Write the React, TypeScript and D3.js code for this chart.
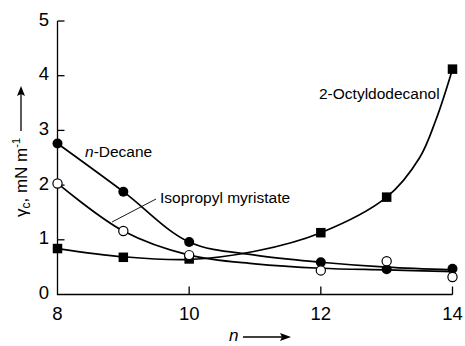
import React from "react";
import * as d3 from "d3";

const xTicks = [8, 10, 12, 14];
const yTicks = [0, 1, 2, 3, 4, 5];

// measured points
const nDecane = [8, 9, 10, 12, 13, 14];
const decaneVals = [2.76, 1.88, 0.96, 0.59, 0.46, 0.47];
const nMyristate = [8, 9, 10, 12, 13, 14];
const myristateVals = [2.03, 1.16, 0.72, 0.44, 0.61, 0.32];
const nOctyl = [8, 9, 10, 12, 13, 14];
const octylVals = [0.84, 0.68, 0.65, 1.13, 1.78, 4.12];

// fitted curves
const decaneCurveN = [8, 9, 10, 11, 12, 13, 14];
const decaneCurveVals = [2.76, 1.88, 0.96, 0.72, 0.59, 0.5, 0.45];
const myristateCurveN = [8, 9, 10, 11, 12, 13, 14];
const myristateCurveVals = [2.03, 1.16, 0.72, 0.56, 0.48, 0.45, 0.42];
const octylCurveN = [8, 9, 10, 11, 12, 13, 13.5, 13.75, 14];
const octylCurveVals = [0.84, 0.69, 0.64, 0.79, 1.13, 1.78, 2.5, 3.2, 4.12];

const FONT = "'Liberation Sans', Arial, Helvetica, sans-serif";

export default function App() {
  const x = d3.scaleLinear().domain([8, 14]).range([57.5, 452.5]);
  const y = d3.scaleLinear().domain([0, 5]).range([294.5, 21]);
  const line = d3
    .line<[number, number]>()
    .x((d) => x(d[0]))
    .y((d) => y(d[1]))
    .curve(d3.curveCatmullRom.alpha(0.5));

  const zip = (a: number[], b: number[]) => a.map((v, i) => [v, b[i]] as [number, number]);

  const sq = 9.5;
  return (
    <svg
      width={465}
      height={346}
      style={{ position: "absolute", left: 0, top: 0, background: "#fff" }}
      fontFamily={FONT}
    >
      <rect x={0} y={0} width={465} height={346} fill="#fff" />
      {/* axes */}
      <path
        d={`M${x(8)},${y(5)}V${y(0)}H${x(14)}`}
        fill="none"
        stroke="#000"
        strokeWidth={1.3}
      />
      {yTicks.filter((t) => t > 0).map((t) => (
        <line key={"yt" + t} x1={x(8)} x2={x(8) + 7} y1={y(t)} y2={y(t)} stroke="#000" strokeWidth={1.3} />
      ))}
      {xTicks.filter((t) => t > 8).map((t) => (
        <line key={"xt" + t} x1={x(t)} x2={x(t)} y1={y(0)} y2={y(0) - 8} stroke="#000" strokeWidth={1.3} />
      ))}
      {yTicks.map((t) => (
        <text key={"yl" + t} x={49} y={y(t) - 2} dy="0.36em" textAnchor="end" fontSize={18.5} fill="#000">
          {t}
        </text>
      ))}
      {xTicks.map((t) => (
        <text key={"xl" + t} x={x(t)} y={320} textAnchor="middle" fontSize={18.5} fill="#000">
          {t}
        </text>
      ))}

      {/* curves */}
      <path d={line(zip(decaneCurveN, decaneCurveVals)) || ""} fill="none" stroke="#000" strokeWidth={1.7} />
      <path d={line(zip(myristateCurveN, myristateCurveVals)) || ""} fill="none" stroke="#000" strokeWidth={1.7} />
      <path d={line(zip(octylCurveN, octylCurveVals)) || ""} fill="none" stroke="#000" strokeWidth={1.7} />

      {/* markers */}
      {zip(nOctyl, octylVals).map((d, i) => (
        <rect key={"o" + i} x={x(d[0]) - sq / 2} y={y(d[1]) - sq / 2} width={sq} height={sq} fill="#000" />
      ))}
      {zip(nDecane, decaneVals).map((d, i) => (
        <circle key={"d" + i} cx={x(d[0])} cy={y(d[1])} r={5} fill="#000" />
      ))}
      {zip(nMyristate, myristateVals).map((d, i) => (
        <circle key={"m" + i} cx={x(d[0])} cy={y(d[1])} r={4.6} fill="#fff" stroke="#000" strokeWidth={1.2} />
      ))}

      {/* annotations */}
      <text x={85} y={157} fontSize={15.5} fill="#000">
        <tspan fontStyle="italic">n</tspan>-Decane
      </text>
      <text x={160} y={202.5} fontSize={15.5} fill="#000">
        Isopropyl myristate
      </text>
      <line x1={112} y1={222} x2={156} y2={199} stroke="#000" strokeWidth={0.9} />
      <text x={319} y={98.5} fontSize={15.5} fill="#000">
        2-Octyldodecanol
      </text>

      {/* y axis title */}
      <g transform="translate(27,217) rotate(-90)">
        <text x={0} y={0} fontSize={17} fill="#000">
          γ<tspan fontSize={12} dy={3}>c</tspan>
          <tspan dy={-3}>, mN m</tspan>
          <tspan fontSize={11} dy={-7}>-1</tspan>
        </text>
        <line x1={86} x2={128} y1={-6} y2={-6} stroke="#000" strokeWidth={1.3} />
        <path d="M131,-6 L121,-10 L123,-6 L121,-2 Z" fill="#000" />
      </g>

      {/* x axis title */}
      <text x={229} y={341} fontSize={17} fontStyle="italic" fill="#000">
        n
      </text>
      <line x1={243} x2={286} y1={337} y2={337} stroke="#000" strokeWidth={1.3} />
      <path d="M291,337 L280,333 L282,337 L280,341 Z" fill="#000" />
    </svg>
  );
}
